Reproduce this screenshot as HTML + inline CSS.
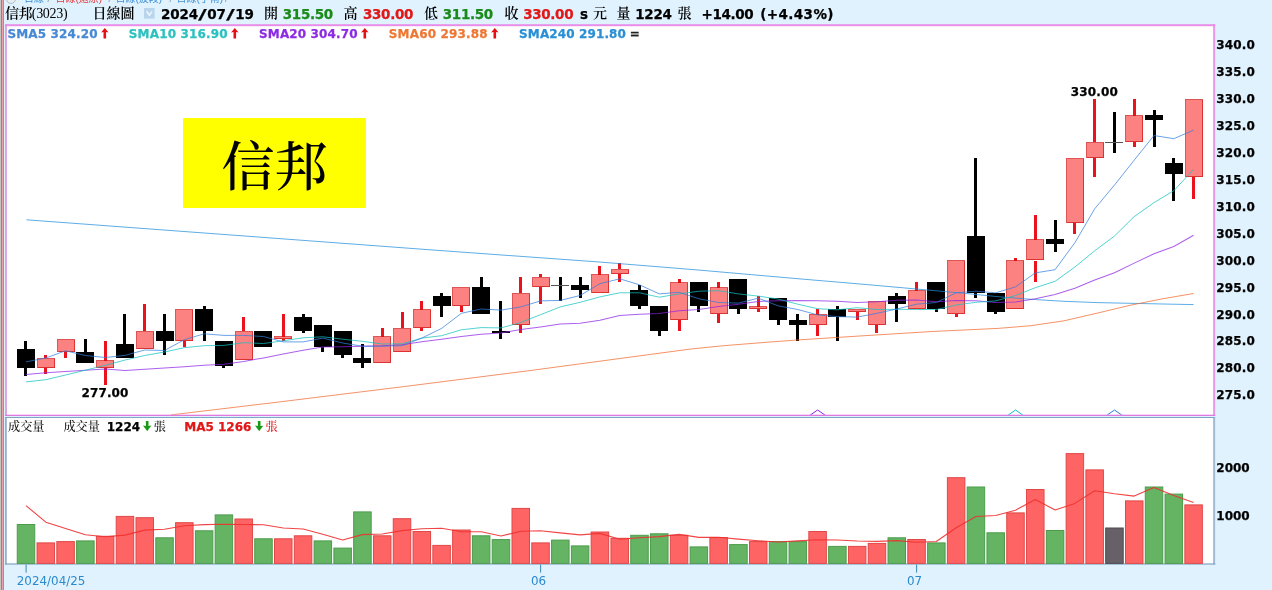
<!DOCTYPE html><html lang="zh-Hant"><head><meta charset="utf-8"><title>信邦(3023) 日線圖</title><style>
html,body{margin:0;padding:0}
body{width:1272px;height:590px;overflow:hidden;background:#e0f2fd;position:relative;font-family:"DejaVu Sans","Liberation Sans","Noto Sans CJK SC",sans-serif}
.a{position:absolute;white-space:nowrap;line-height:1}
.b{font-weight:bold;-webkit-text-stroke:0.25px}
.zh{font-family:"Liberation Serif","Noto Serif CJK SC",serif;font-weight:600}
.sl{margin:0 2.3px;display:inline-block;transform:scaleX(1.7)}
.n{font-weight:normal}
.pane{position:absolute;background:#fff;box-sizing:border-box}
</style></head><body>
<div class="a" style="left:0;top:0;width:1px;height:590px;background:#c6c6c0"></div>
<div class="a" style="left:1px;top:0;width:1px;height:590px;background:#9c8080"></div>
<div class="a" style="left:2px;top:0;width:1px;height:590px;background:#eba0ac"></div>
<div class="a" style="left:3px;top:0;width:1px;height:590px;background:#d47a8c"></div>
<div class="pane" style="left:6px;top:25px;width:1208px;height:390px"></div>
<div class="pane" style="left:6px;top:417px;width:1208px;height:147px"></div>
<div class="a" style="left:183px;top:118px;width:183px;height:90px;background:#ffff00"></div>
<div class="a zh" id="big" style="left:183px;top:122.5px;width:183px;height:86px;font-size:53px;line-height:90px;text-align:center;color:#000;font-weight:500">信邦</div>
<svg width="1272" height="590" viewBox="0 0 1272 590" style="position:absolute;left:0;top:0"><rect x="5" y="24.2" width="2" height="391.7" fill="#dca6e4"/><rect x="1213.1" y="24.2" width="2.05" height="391.7" fill="#ea98ea"/><rect x="5" y="24.2" width="1210.15" height="2" fill="#e88ee8"/><rect x="5" y="414.7" width="1210.15" height="1.25" fill="#e074e0"/><rect x="5.1" y="417" width="1.6" height="147.6" fill="#86aaca"/><rect x="1213.1" y="417" width="2.05" height="147.6" fill="#a2bcd6"/><rect x="5.1" y="417" width="1210.05" height="1" fill="#7ea4c6"/><rect x="5.1" y="563.4" width="1210.05" height="1.2" fill="#7ea4c6"/><rect x="17.25" y="524.5" width="17.5" height="38.9" fill="#64b464" stroke="#4c9c4c" stroke-width="1"/><rect x="37.04" y="542.9" width="17.5" height="20.5" fill="#ff6464" stroke="#e04848" stroke-width="1"/><rect x="56.83" y="541.6" width="17.5" height="21.8" fill="#ff6464" stroke="#e04848" stroke-width="1"/><rect x="76.62" y="540.9" width="17.5" height="22.5" fill="#64b464" stroke="#4c9c4c" stroke-width="1"/><rect x="96.41" y="536.3" width="17.5" height="27.1" fill="#ff6464" stroke="#e04848" stroke-width="1"/><rect x="116.20" y="516.4" width="17.5" height="47.0" fill="#ff6464" stroke="#e04848" stroke-width="1"/><rect x="135.99" y="517.7" width="17.5" height="45.7" fill="#ff6464" stroke="#e04848" stroke-width="1"/><rect x="155.78" y="537.8" width="17.5" height="25.6" fill="#64b464" stroke="#4c9c4c" stroke-width="1"/><rect x="175.57" y="522.7" width="17.5" height="40.7" fill="#ff6464" stroke="#e04848" stroke-width="1"/><rect x="195.36" y="530.8" width="17.5" height="32.6" fill="#64b464" stroke="#4c9c4c" stroke-width="1"/><rect x="215.15" y="514.9" width="17.5" height="48.5" fill="#64b464" stroke="#4c9c4c" stroke-width="1"/><rect x="234.94" y="519.0" width="17.5" height="44.4" fill="#ff6464" stroke="#e04848" stroke-width="1"/><rect x="254.73" y="538.8" width="17.5" height="24.6" fill="#64b464" stroke="#4c9c4c" stroke-width="1"/><rect x="274.52" y="538.8" width="17.5" height="24.6" fill="#ff6464" stroke="#e04848" stroke-width="1"/><rect x="294.31" y="535.8" width="17.5" height="27.6" fill="#ff6464" stroke="#e04848" stroke-width="1"/><rect x="314.10" y="540.9" width="17.5" height="22.5" fill="#64b464" stroke="#4c9c4c" stroke-width="1"/><rect x="333.89" y="548.1" width="17.5" height="15.3" fill="#64b464" stroke="#4c9c4c" stroke-width="1"/><rect x="353.68" y="511.9" width="17.5" height="51.5" fill="#64b464" stroke="#4c9c4c" stroke-width="1"/><rect x="373.47" y="535.8" width="17.5" height="27.6" fill="#ff6464" stroke="#e04848" stroke-width="1"/><rect x="393.26" y="518.7" width="17.5" height="44.7" fill="#ff6464" stroke="#e04848" stroke-width="1"/><rect x="413.05" y="531.5" width="17.5" height="31.9" fill="#ff6464" stroke="#e04848" stroke-width="1"/><rect x="432.84" y="545.4" width="17.5" height="18.0" fill="#ff6464" stroke="#e04848" stroke-width="1"/><rect x="452.63" y="530.0" width="17.5" height="33.4" fill="#ff6464" stroke="#e04848" stroke-width="1"/><rect x="472.42" y="535.8" width="17.5" height="27.6" fill="#64b464" stroke="#4c9c4c" stroke-width="1"/><rect x="492.21" y="539.6" width="17.5" height="23.8" fill="#64b464" stroke="#4c9c4c" stroke-width="1"/><rect x="512.00" y="508.4" width="17.5" height="55.0" fill="#ff6464" stroke="#e04848" stroke-width="1"/><rect x="531.79" y="542.9" width="17.5" height="20.5" fill="#ff6464" stroke="#e04848" stroke-width="1"/><rect x="551.58" y="540.1" width="17.5" height="23.3" fill="#64b464" stroke="#4c9c4c" stroke-width="1"/><rect x="571.37" y="545.9" width="17.5" height="17.5" fill="#64b464" stroke="#4c9c4c" stroke-width="1"/><rect x="591.16" y="532.0" width="17.5" height="31.4" fill="#ff6464" stroke="#e04848" stroke-width="1"/><rect x="610.95" y="538.3" width="17.5" height="25.1" fill="#ff6464" stroke="#e04848" stroke-width="1"/><rect x="630.74" y="535.3" width="17.5" height="28.1" fill="#64b464" stroke="#4c9c4c" stroke-width="1"/><rect x="650.53" y="533.8" width="17.5" height="29.6" fill="#64b464" stroke="#4c9c4c" stroke-width="1"/><rect x="670.32" y="535.3" width="17.5" height="28.1" fill="#ff6464" stroke="#e04848" stroke-width="1"/><rect x="690.11" y="546.9" width="17.5" height="16.5" fill="#64b464" stroke="#4c9c4c" stroke-width="1"/><rect x="709.90" y="537.6" width="17.5" height="25.8" fill="#ff6464" stroke="#e04848" stroke-width="1"/><rect x="729.69" y="544.6" width="17.5" height="18.8" fill="#64b464" stroke="#4c9c4c" stroke-width="1"/><rect x="749.48" y="541.6" width="17.5" height="21.8" fill="#ff6464" stroke="#e04848" stroke-width="1"/><rect x="769.27" y="541.6" width="17.5" height="21.8" fill="#64b464" stroke="#4c9c4c" stroke-width="1"/><rect x="789.06" y="541.6" width="17.5" height="21.8" fill="#64b464" stroke="#4c9c4c" stroke-width="1"/><rect x="808.85" y="531.5" width="17.5" height="31.9" fill="#ff6464" stroke="#e04848" stroke-width="1"/><rect x="828.64" y="546.4" width="17.5" height="17.0" fill="#64b464" stroke="#4c9c4c" stroke-width="1"/><rect x="848.43" y="546.4" width="17.5" height="17.0" fill="#ff6464" stroke="#e04848" stroke-width="1"/><rect x="868.22" y="543.4" width="17.5" height="20.0" fill="#ff6464" stroke="#e04848" stroke-width="1"/><rect x="888.01" y="537.8" width="17.5" height="25.6" fill="#64b464" stroke="#4c9c4c" stroke-width="1"/><rect x="907.80" y="539.5" width="17.5" height="23.9" fill="#ff6464" stroke="#e04848" stroke-width="1"/><rect x="927.59" y="542.9" width="17.5" height="20.5" fill="#64b464" stroke="#4c9c4c" stroke-width="1"/><rect x="947.38" y="477.7" width="17.5" height="85.7" fill="#ff6464" stroke="#e04848" stroke-width="1"/><rect x="967.17" y="487.0" width="17.5" height="76.4" fill="#64b464" stroke="#4c9c4c" stroke-width="1"/><rect x="986.96" y="532.8" width="17.5" height="30.6" fill="#64b464" stroke="#4c9c4c" stroke-width="1"/><rect x="1006.75" y="512.9" width="17.5" height="50.5" fill="#ff6464" stroke="#e04848" stroke-width="1"/><rect x="1026.54" y="489.5" width="17.5" height="73.9" fill="#ff6464" stroke="#e04848" stroke-width="1"/><rect x="1046.33" y="530.5" width="17.5" height="32.9" fill="#64b464" stroke="#4c9c4c" stroke-width="1"/><rect x="1066.12" y="453.6" width="17.5" height="109.8" fill="#ff6464" stroke="#e04848" stroke-width="1"/><rect x="1085.91" y="469.9" width="17.5" height="93.5" fill="#ff6464" stroke="#e04848" stroke-width="1"/><rect x="1105.70" y="528.0" width="17.5" height="35.4" fill="#686068" stroke="#504850" stroke-width="1"/><rect x="1125.49" y="500.9" width="17.5" height="62.5" fill="#ff6464" stroke="#e04848" stroke-width="1"/><rect x="1145.28" y="487.0" width="17.5" height="76.4" fill="#64b464" stroke="#4c9c4c" stroke-width="1"/><rect x="1165.07" y="494.1" width="17.5" height="69.3" fill="#64b464" stroke="#4c9c4c" stroke-width="1"/><rect x="1184.86" y="504.9" width="17.5" height="58.5" fill="#ff6464" stroke="#e04848" stroke-width="1"/><polyline points="26.0,505.6 45.8,522.2 65.6,528.5 85.4,534.8 105.2,536.7 124.9,535.1 144.7,530.1 164.5,529.3 184.3,525.7 204.1,524.6 223.9,524.3 243.7,524.5 263.5,524.7 283.3,528.0 303.1,529.0 322.8,534.2 342.6,540.0 362.4,534.6 382.2,534.0 402.0,530.6 421.8,528.7 441.6,528.2 461.4,531.8 481.2,531.8 501.0,536.0 520.8,531.3 540.5,530.8 560.3,532.9 580.1,534.9 599.9,533.4 619.7,539.3 639.5,537.8 659.3,536.6 679.1,534.4 698.9,537.4 718.6,537.3 738.4,539.1 758.2,540.7 778.0,542.0 797.8,540.9 817.6,539.7 837.4,540.0 857.2,541.0 877.0,541.4 896.8,540.6 916.5,542.2 936.3,541.5 956.1,527.8 975.9,516.5 995.7,515.5 1015.5,510.2 1035.3,499.5 1055.1,510.0 1074.9,503.4 1094.7,490.8 1114.5,493.8 1134.2,496.1 1154.0,487.4 1173.8,495.5 1193.6,502.5" fill="none" stroke="#f03030" stroke-width="1.1" stroke-opacity="0.9" stroke-linejoin="round"/><g shape-rendering="crispEdges"><rect x="24" y="341.3" width="3" height="35.0" fill="#000"/><rect x="17" y="349.0" width="18" height="19.0" fill="#000"/><rect x="84" y="338.7" width="3" height="24.3" fill="#000"/><rect x="76" y="352.0" width="18" height="11.0" fill="#000"/><rect x="123" y="314.4" width="3" height="43.1" fill="#000"/><rect x="116" y="344.0" width="18" height="14.0" fill="#000"/><rect x="163" y="314.4" width="3" height="40.4" fill="#000"/><rect x="156" y="331.0" width="18" height="10.0" fill="#000"/><rect x="203" y="306.3" width="3" height="35.0" fill="#000"/><rect x="195" y="309.0" width="18" height="22.0" fill="#000"/><rect x="222" y="341.3" width="3" height="26.9" fill="#000"/><rect x="215" y="341.0" width="18" height="25.0" fill="#000"/><rect x="262" y="330.6" width="3" height="16.2" fill="#000"/><rect x="254" y="331.0" width="18" height="16.0" fill="#000"/><rect x="302" y="314.4" width="3" height="18.9" fill="#000"/><rect x="294" y="317.0" width="18" height="14.0" fill="#000"/><rect x="321" y="325.2" width="3" height="26.9" fill="#000"/><rect x="314" y="325.0" width="18" height="22.0" fill="#000"/><rect x="341" y="330.6" width="3" height="27.0" fill="#000"/><rect x="334" y="331.0" width="18" height="24.0" fill="#000"/><rect x="361" y="344.0" width="3" height="24.3" fill="#000"/><rect x="353" y="358.0" width="18" height="5.0" fill="#000"/><rect x="440" y="292.8" width="3" height="24.3" fill="#000"/><rect x="433" y="296.0" width="18" height="10.0" fill="#000"/><rect x="480" y="276.7" width="3" height="37.7" fill="#000"/><rect x="472" y="287.0" width="18" height="27.0" fill="#000"/><rect x="499" y="300.9" width="3" height="37.7" fill="#000"/><rect x="492" y="331.0" width="18" height="2.0" fill="#000"/><rect x="559" y="276.7" width="3" height="24.3" fill="#000"/><rect x="551" y="285.0" width="18" height="1" fill="#555"/><rect x="579" y="276.7" width="3" height="21.6" fill="#000"/><rect x="571" y="285.0" width="18" height="5.0" fill="#000"/><rect x="638" y="284.8" width="3" height="24.3" fill="#000"/><rect x="630" y="290.0" width="18" height="16.0" fill="#000"/><rect x="658" y="306.3" width="3" height="29.6" fill="#000"/><rect x="650" y="306.0" width="18" height="25.0" fill="#000"/><rect x="697" y="282.1" width="3" height="29.6" fill="#000"/><rect x="690" y="282.0" width="18" height="24.0" fill="#000"/><rect x="737" y="279.4" width="3" height="35.0" fill="#000"/><rect x="729" y="279.0" width="18" height="30.0" fill="#000"/><rect x="777" y="298.2" width="3" height="26.9" fill="#000"/><rect x="769" y="298.0" width="18" height="22.0" fill="#000"/><rect x="796" y="314.4" width="3" height="26.9" fill="#000"/><rect x="789" y="320.0" width="18" height="5.0" fill="#000"/><rect x="836" y="306.3" width="3" height="35.0" fill="#000"/><rect x="828" y="309.0" width="18" height="8.0" fill="#000"/><rect x="895" y="292.8" width="3" height="29.6" fill="#000"/><rect x="888" y="296.0" width="18" height="8.0" fill="#000"/><rect x="935" y="282.1" width="3" height="29.6" fill="#000"/><rect x="927" y="282.0" width="18" height="27.0" fill="#000"/><rect x="974" y="158.1" width="3" height="140.1" fill="#000"/><rect x="967" y="236.0" width="18" height="57.0" fill="#000"/><rect x="994" y="292.8" width="3" height="21.6" fill="#000"/><rect x="987" y="293.0" width="18" height="19.0" fill="#000"/><rect x="1054" y="220.1" width="3" height="32.3" fill="#000"/><rect x="1046" y="239.0" width="18" height="5.0" fill="#000"/><rect x="1113" y="112.3" width="3" height="40.4" fill="#000"/><rect x="1105" y="142.0" width="18" height="1" fill="#555"/><rect x="1153" y="109.6" width="3" height="37.7" fill="#000"/><rect x="1145" y="115.0" width="18" height="5.0" fill="#000"/><rect x="1172" y="158.1" width="3" height="43.1" fill="#000"/><rect x="1165" y="163.0" width="18" height="11.0" fill="#000"/><rect x="44" y="354.8" width="3" height="3.2" fill="#ea121c"/><rect x="44" y="368.3" width="3" height="5.4" fill="#ea121c"/><rect x="37.5" y="358.5" width="17" height="9.0" fill="#fa0606" fill-opacity="0.5" stroke="#d01414" stroke-opacity="0.72" stroke-width="1"/><rect x="64" y="352.1" width="3" height="5.4" fill="#ea121c"/><rect x="57.5" y="339.5" width="17" height="12.0" fill="#fa0606" fill-opacity="0.5" stroke="#d01414" stroke-opacity="0.72" stroke-width="1"/><rect x="104" y="341.3" width="3" height="19.4" fill="#ea121c"/><rect x="104" y="368.3" width="3" height="16.2" fill="#ea121c"/><rect x="96.5" y="360.5" width="17" height="7.0" fill="#fa0606" fill-opacity="0.5" stroke="#d01414" stroke-opacity="0.72" stroke-width="1"/><rect x="143" y="303.6" width="3" height="27.4" fill="#ea121c"/><rect x="136.5" y="331.5" width="17" height="17.0" fill="#fa0606" fill-opacity="0.5" stroke="#d01414" stroke-opacity="0.72" stroke-width="1"/><rect x="183" y="341.3" width="3" height="5.4" fill="#ea121c"/><rect x="175.5" y="309.5" width="17" height="31.0" fill="#fa0606" fill-opacity="0.5" stroke="#d01414" stroke-opacity="0.72" stroke-width="1"/><rect x="242" y="317.1" width="3" height="14.0" fill="#ea121c"/><rect x="235.5" y="331.5" width="17" height="28.0" fill="#fa0606" fill-opacity="0.5" stroke="#d01414" stroke-opacity="0.72" stroke-width="1"/><rect x="282" y="314.4" width="3" height="22.1" fill="#ea121c"/><rect x="282" y="338.7" width="3" height="2.7" fill="#ea121c"/><rect x="274.5" y="336.5" width="17" height="2.0" fill="#fa0606" fill-opacity="0.5" stroke="#d01414" stroke-opacity="0.72" stroke-width="1"/><rect x="381" y="327.9" width="3" height="8.6" fill="#ea121c"/><rect x="373.5" y="336.5" width="17" height="26.0" fill="#fa0606" fill-opacity="0.5" stroke="#d01414" stroke-opacity="0.72" stroke-width="1"/><rect x="401" y="311.7" width="3" height="16.7" fill="#ea121c"/><rect x="393.5" y="328.5" width="17" height="23.0" fill="#fa0606" fill-opacity="0.5" stroke="#d01414" stroke-opacity="0.72" stroke-width="1"/><rect x="420" y="300.9" width="3" height="8.6" fill="#ea121c"/><rect x="420" y="327.9" width="3" height="2.7" fill="#ea121c"/><rect x="413.5" y="309.5" width="17" height="18.0" fill="#fa0606" fill-opacity="0.5" stroke="#d01414" stroke-opacity="0.72" stroke-width="1"/><rect x="460" y="306.3" width="3" height="5.4" fill="#ea121c"/><rect x="452.5" y="287.5" width="17" height="18.0" fill="#fa0606" fill-opacity="0.5" stroke="#d01414" stroke-opacity="0.72" stroke-width="1"/><rect x="519" y="276.7" width="3" height="16.7" fill="#ea121c"/><rect x="519" y="325.2" width="3" height="8.1" fill="#ea121c"/><rect x="512.5" y="293.5" width="17" height="31.0" fill="#fa0606" fill-opacity="0.5" stroke="#d01414" stroke-opacity="0.72" stroke-width="1"/><rect x="539" y="274.0" width="3" height="3.2" fill="#ea121c"/><rect x="539" y="287.4" width="3" height="16.2" fill="#ea121c"/><rect x="532.5" y="277.5" width="17" height="9.0" fill="#fa0606" fill-opacity="0.5" stroke="#d01414" stroke-opacity="0.72" stroke-width="1"/><rect x="598" y="265.9" width="3" height="8.6" fill="#ea121c"/><rect x="591.5" y="274.5" width="17" height="18.0" fill="#fa0606" fill-opacity="0.5" stroke="#d01414" stroke-opacity="0.72" stroke-width="1"/><rect x="618" y="263.2" width="3" height="5.9" fill="#ea121c"/><rect x="618" y="274.0" width="3" height="8.1" fill="#ea121c"/><rect x="611.5" y="269.5" width="17" height="4.0" fill="#fa0606" fill-opacity="0.5" stroke="#d01414" stroke-opacity="0.72" stroke-width="1"/><rect x="678" y="279.4" width="3" height="3.2" fill="#ea121c"/><rect x="678" y="319.8" width="3" height="10.8" fill="#ea121c"/><rect x="670.5" y="282.5" width="17" height="37.0" fill="#fa0606" fill-opacity="0.5" stroke="#d01414" stroke-opacity="0.72" stroke-width="1"/><rect x="717" y="282.1" width="3" height="5.9" fill="#ea121c"/><rect x="717" y="314.4" width="3" height="8.1" fill="#ea121c"/><rect x="710.5" y="287.5" width="17" height="26.0" fill="#fa0606" fill-opacity="0.5" stroke="#d01414" stroke-opacity="0.72" stroke-width="1"/><rect x="757" y="295.5" width="3" height="11.3" fill="#ea121c"/><rect x="757" y="309.0" width="3" height="2.7" fill="#ea121c"/><rect x="749.5" y="306.5" width="17" height="2.0" fill="#fa0606" fill-opacity="0.5" stroke="#d01414" stroke-opacity="0.72" stroke-width="1"/><rect x="816" y="309.0" width="3" height="5.9" fill="#ea121c"/><rect x="816" y="325.2" width="3" height="10.8" fill="#ea121c"/><rect x="809.5" y="314.5" width="17" height="10.0" fill="#fa0606" fill-opacity="0.5" stroke="#d01414" stroke-opacity="0.72" stroke-width="1"/><rect x="856" y="311.7" width="3" height="8.1" fill="#ea121c"/><rect x="848.5" y="309.5" width="17" height="2.0" fill="#fa0606" fill-opacity="0.5" stroke="#d01414" stroke-opacity="0.72" stroke-width="1"/><rect x="875" y="325.2" width="3" height="8.1" fill="#ea121c"/><rect x="868.5" y="301.5" width="17" height="23.0" fill="#fa0606" fill-opacity="0.5" stroke="#d01414" stroke-opacity="0.72" stroke-width="1"/><rect x="915" y="282.1" width="3" height="8.6" fill="#ea121c"/><rect x="908.5" y="290.5" width="17" height="18.0" fill="#fa0606" fill-opacity="0.5" stroke="#d01414" stroke-opacity="0.72" stroke-width="1"/><rect x="955" y="314.4" width="3" height="2.7" fill="#ea121c"/><rect x="947.5" y="260.5" width="17" height="53.0" fill="#fa0606" fill-opacity="0.5" stroke="#d01414" stroke-opacity="0.72" stroke-width="1"/><rect x="1014" y="257.8" width="3" height="3.2" fill="#ea121c"/><rect x="1006.5" y="260.5" width="17" height="48.0" fill="#fa0606" fill-opacity="0.5" stroke="#d01414" stroke-opacity="0.72" stroke-width="1"/><rect x="1034" y="214.7" width="3" height="24.8" fill="#ea121c"/><rect x="1034" y="260.5" width="3" height="21.6" fill="#ea121c"/><rect x="1026.5" y="239.5" width="17" height="20.0" fill="#fa0606" fill-opacity="0.5" stroke="#d01414" stroke-opacity="0.72" stroke-width="1"/><rect x="1073" y="222.8" width="3" height="10.8" fill="#ea121c"/><rect x="1066.5" y="158.5" width="17" height="64.0" fill="#fa0606" fill-opacity="0.5" stroke="#d01414" stroke-opacity="0.72" stroke-width="1"/><rect x="1093" y="98.8" width="3" height="43.6" fill="#ea121c"/><rect x="1093" y="158.1" width="3" height="18.9" fill="#ea121c"/><rect x="1086.5" y="142.5" width="17" height="15.0" fill="#fa0606" fill-opacity="0.5" stroke="#d01414" stroke-opacity="0.72" stroke-width="1"/><rect x="1133" y="98.8" width="3" height="16.7" fill="#ea121c"/><rect x="1133" y="141.9" width="3" height="5.4" fill="#ea121c"/><rect x="1125.5" y="115.5" width="17" height="26.0" fill="#fa0606" fill-opacity="0.5" stroke="#d01414" stroke-opacity="0.72" stroke-width="1"/><rect x="1192" y="177.0" width="3" height="21.6" fill="#ea121c"/><rect x="1185.5" y="99.5" width="17" height="77.0" fill="#fa0606" fill-opacity="0.5" stroke="#d01414" stroke-opacity="0.72" stroke-width="1"/></g><clipPath id="mc"><rect x="7" y="26.2" width="1206.1" height="388.5"/></clipPath><g clip-path="url(#mc)"><polyline points="26.5,219.8 426.0,249.5 499.0,254.8 598.0,261.9 697.0,269.9 800.0,278.9 866.0,284.5 932.0,290.4 965.0,293.4 998.0,296.7 1031.0,299.3 1064.0,301.3 1097.0,302.6 1130.0,303.3 1163.0,304.0 1193.6,304.6" fill="none" stroke="#1f8edc" stroke-width="1.0" stroke-opacity="0.72" stroke-linejoin="round"/><polyline points="171.0,414.9 277.3,402.2 404.7,386.5 532.0,370.3 690.0,349.1 722.4,345.8 765.0,342.4 800.0,339.8 866.0,335.6 932.0,331.5 998.0,328.4 1031.0,325.7 1064.0,320.8 1097.0,313.2 1130.0,305.3 1163.0,298.7 1193.6,293.5" fill="none" stroke="#f0682c" stroke-width="1.0" stroke-opacity="0.72" stroke-linejoin="round"/><polyline points="26.0,374.5 45.8,372.8 65.6,371.5 85.4,370.2 105.2,369.0 124.9,370.5 144.7,369.3 164.5,368.0 184.3,366.7 204.1,365.2 223.9,364.2 243.7,361.4 263.5,357.9 283.3,354.0 303.1,350.2 322.8,347.0 342.6,346.7 362.4,346.3 382.2,345.8 402.0,344.7 421.8,341.8 441.6,339.2 461.4,336.6 481.2,334.2 501.0,332.9 520.8,329.6 540.5,326.9 560.3,324.1 580.1,323.2 599.9,320.3 619.7,315.5 639.5,314.3 659.3,313.5 679.1,310.8 698.9,309.5 718.6,306.6 738.4,304.3 758.2,301.5 778.0,300.7 797.8,300.5 817.6,300.8 837.4,301.3 857.2,302.4 877.0,301.7 896.8,300.3 916.5,300.1 936.3,301.7 956.1,300.5 975.9,300.7 995.7,302.5 1015.5,302.1 1035.3,298.8 1055.1,294.5 1074.9,288.3 1094.7,280.0 1114.5,272.8 1134.2,263.1 1154.0,253.8 1173.8,246.5 1193.6,235.2" fill="none" stroke="#8c22e6" stroke-width="1.05" stroke-opacity="0.72" stroke-linejoin="round"/><polyline points="26.0,381.9 45.8,379.7 65.6,375.0 85.4,370.2 105.2,365.3 124.9,360.1 144.7,355.5 164.5,352.0 184.3,347.7 204.1,345.7 223.9,345.4 243.7,342.7 263.5,343.5 283.3,340.8 303.1,337.8 322.8,336.8 342.6,339.2 362.4,341.3 382.2,344.0 402.0,343.8 421.8,338.1 441.6,335.7 461.4,329.8 481.2,327.6 501.0,327.9 520.8,322.5 540.5,314.7 560.3,306.9 580.1,302.3 599.9,296.9 619.7,292.8 639.5,292.8 659.3,297.2 679.1,293.9 698.9,291.2 718.6,290.7 738.4,293.9 758.2,296.1 778.0,299.0 797.8,304.2 817.6,308.7 837.4,309.8 857.2,307.7 877.0,309.5 896.8,309.3 916.5,309.5 936.3,309.5 956.1,305.0 975.9,302.3 995.7,300.9 1015.5,295.5 1035.3,287.7 1055.1,281.3 1074.9,267.0 1094.7,250.8 1114.5,236.0 1134.2,216.6 1154.0,202.6 1173.8,190.7 1193.6,169.4" fill="none" stroke="#10c0c0" stroke-width="1.0" stroke-opacity="0.72" stroke-linejoin="round"/><polyline points="26.0,361.9 45.8,358.0 65.6,350.8 85.4,355.5 105.2,357.5 124.9,355.4 144.7,350.0 164.5,350.5 184.3,339.7 204.1,333.8 223.9,335.4 243.7,335.4 263.5,336.5 283.3,341.9 303.1,341.9 322.8,338.1 342.6,343.0 362.4,346.2 382.2,346.2 402.0,345.7 421.8,338.1 441.6,328.4 461.4,313.3 481.2,309.0 501.0,310.1 520.8,306.9 540.5,300.9 560.3,300.4 580.1,295.5 599.9,283.7 619.7,278.8 639.5,284.8 659.3,293.9 679.1,292.3 698.9,298.8 718.6,302.5 738.4,303.1 758.2,298.2 778.0,305.8 797.8,309.5 817.6,314.9 837.4,316.6 857.2,317.1 877.0,313.3 896.8,309.0 916.5,304.2 936.3,302.5 956.1,292.8 975.9,291.2 995.7,292.8 1015.5,286.9 1035.3,272.9 1055.1,269.7 1074.9,242.7 1094.7,208.8 1114.5,185.0 1134.2,160.2 1154.0,135.5 1173.8,138.7 1193.6,130.1" fill="none" stroke="#2f7edc" stroke-width="1.0" stroke-opacity="0.72" stroke-linejoin="round"/><polyline points="809.6,415.5 817.6,410 825.6,415.5" fill="none" stroke="#8c22e6" stroke-width="1"/><polyline points="1007.5,415.5 1015.5,410 1023.5,415.5" fill="none" stroke="#10c0c0" stroke-width="1"/><polyline points="1106.5,415.5 1114.5,410 1122.5,415.5" fill="none" stroke="#2f7edc" stroke-width="1"/></g><rect x="25.6" y="564.6" width="1" height="8" fill="#3d84b4"/><rect x="540.1" y="564.6" width="1" height="8" fill="#3d84b4"/><rect x="916.1" y="564.6" width="1" height="8" fill="#3d84b4"/></svg>
<div class="a" id="topclip" style="left:0;top:0;width:400px;height:4px;overflow:hidden"><div class="a" style="left:5.5px;top:-6px;width:8px;height:8px;border-radius:5px;border:1px solid #b4bcc6;background:#e6ecf2"></div><div class="a" id="t1" style="font-family:'Liberation Sans','Noto Sans CJK SC',sans-serif;font-size:10px;top:-6.2px;left:24px;color:#3d8fd6">日線</div><div class="a" style="font-family:'Liberation Sans','Noto Sans CJK SC',sans-serif;font-size:10px;top:-6.2px;left:47.5px;color:#8899aa">/</div><div class="a" id="t2" style="font-family:'Liberation Sans','Noto Sans CJK SC',sans-serif;font-size:10px;top:-6.2px;left:55.5px;color:#e23a3a">日線(還原)</div><div class="a" style="font-family:'Liberation Sans','Noto Sans CJK SC',sans-serif;font-size:10px;top:-6.2px;left:108.5px;color:#8899aa">/</div><div class="a" id="t3" style="font-family:'Liberation Sans','Noto Sans CJK SC',sans-serif;font-size:10px;top:-6.2px;left:115.5px;color:#3d8fd6">日線(波段)</div><div class="a" style="font-family:'Liberation Sans','Noto Sans CJK SC',sans-serif;font-size:10px;top:-6.2px;left:169.5px;color:#8899aa">/</div><div class="a" id="t4" style="font-family:'Liberation Sans','Noto Sans CJK SC',sans-serif;font-size:10px;top:-6.2px;left:176.5px;color:#3d8fd6">日線(手術)</div><div class="a" style="font-family:'Liberation Sans','Noto Sans CJK SC',sans-serif;font-size:10px;top:-6.2px;left:225px;color:#8899aa">/</div></div>
<div class="a zh" id="h_name" style="left:5.0px;top:7.0px;font-size:14px;color:#000;"><span style="letter-spacing:-0.6px">信邦</span><span class="n" style="letter-spacing:-0.3px">(3023)</span></div>
<div class="a zh" id="h_type" style="left:92.5px;top:7.0px;font-size:14px;color:#000;">日線圖</div>
<svg class="a" id="h_chk" style="left:144.3px;top:8.1px" width="10.6" height="10.6" viewBox="0 0 10.6 10.6"><rect width="10.6" height="10.6" fill="#b9d5ee"/><polyline points="2.6,3.3 5.4,7.2 8,3.6" fill="none" stroke="#eef7fd" stroke-width="1.5"/></svg>
<div class="a b" id="h_date" style="left:161.0px;top:7.8px;font-size:13.5px;color:#000;letter-spacing:-0.15px">2024<span class="sl">/</span>07<span class="sl">/</span>19</div>
<div class="a zh" id="h_o" style="left:264.0px;top:7.0px;font-size:14px;color:#000;">開</div>
<div class="a b" id="h_ov" style="left:282.8px;top:7.8px;font-size:13.5px;color:#1a8a1a;letter-spacing:-0.35px">315.50</div>
<div class="a zh" id="h_h" style="left:343.6px;top:7.0px;font-size:14px;color:#000;">高</div>
<div class="a b" id="h_hv" style="left:363.0px;top:7.8px;font-size:13.5px;color:#e01818;letter-spacing:-0.35px">330.00</div>
<div class="a zh" id="h_l" style="left:424.0px;top:7.0px;font-size:14px;color:#000;">低</div>
<div class="a b" id="h_lv" style="left:442.8px;top:7.8px;font-size:13.5px;color:#1a8a1a;letter-spacing:-0.35px">311.50</div>
<div class="a zh" id="h_c" style="left:504.6px;top:7.0px;font-size:14px;color:#000;">收</div>
<div class="a b" id="h_cv" style="left:523.2px;top:7.8px;font-size:13.5px;color:#e01818;letter-spacing:-0.35px">330.00</div>
<div class="a b" id="h_s" style="left:580.0px;top:7.8px;font-size:13.5px;color:#000;">s</div>
<div class="a zh" id="h_y" style="left:593.0px;top:7.0px;font-size:14px;color:#000;">元</div>
<div class="a zh" id="h_q" style="left:616.5px;top:7.0px;font-size:14px;color:#000;">量</div>
<div class="a b" id="h_qv" style="left:635.3px;top:7.8px;font-size:13.5px;color:#000;letter-spacing:-0.35px">1224</div>
<div class="a zh" id="h_z" style="left:677.5px;top:7.0px;font-size:14px;color:#000;">張</div>
<div class="a b" id="h_chg" style="left:701.5px;top:7.8px;font-size:13.5px;color:#000;letter-spacing:-0.35px">+14.00</div>
<div class="a b" id="h_pct" style="left:760.2px;top:7.8px;font-size:13.5px;color:#000;letter-spacing:0.4px">(+4.43%)</div>
<div class="a b" id="s5" style="left:7.5px;top:28.0px;font-size:12px;color:#4789d6;letter-spacing:0.13px">SMA5 324.20</div>
<svg class="a" id="a5" style="left:101.4px;top:28.3px" width="7.6" height="10.4" viewBox="0 0 7.6 10.4"><path d="M3.8 0 L7.6 4.5 L5.1 4.1 L5.1 10.4 L2.5 10.4 L2.5 4.1 L0 4.5 Z" fill="#e60f14"/></svg>
<div class="a b" id="s10" style="left:128.8px;top:28.0px;font-size:12px;color:#2cc0c0;letter-spacing:0.16px">SMA10 316.90</div>
<svg class="a" id="a10" style="left:231.3px;top:28.3px" width="7.6" height="10.4" viewBox="0 0 7.6 10.4"><path d="M3.8 0 L7.6 4.5 L5.1 4.1 L5.1 10.4 L2.5 10.4 L2.5 4.1 L0 4.5 Z" fill="#e60f14"/></svg>
<div class="a b" id="s20" style="left:259.1px;top:28.0px;font-size:12px;color:#8c2be2;letter-spacing:0.13px">SMA20 304.70</div>
<svg class="a" id="a20" style="left:361.4px;top:28.3px" width="7.6" height="10.4" viewBox="0 0 7.6 10.4"><path d="M3.8 0 L7.6 4.5 L5.1 4.1 L5.1 10.4 L2.5 10.4 L2.5 4.1 L0 4.5 Z" fill="#e60f14"/></svg>
<div class="a b" id="s60" style="left:388.8px;top:28.0px;font-size:12px;color:#ee7733;letter-spacing:0.16px">SMA60 293.88</div>
<svg class="a" id="a60" style="left:491.3px;top:28.3px" width="7.6" height="10.4" viewBox="0 0 7.6 10.4"><path d="M3.8 0 L7.6 4.5 L5.1 4.1 L5.1 10.4 L2.5 10.4 L2.5 4.1 L0 4.5 Z" fill="#e60f14"/></svg>
<div class="a b" id="s240" style="left:519.1px;top:28.0px;font-size:12px;color:#2a8fd4;letter-spacing:0.12px">SMA240 291.80</div>
<div class="a b" id="eq" style="left:629.8px;top:28.0px;font-size:12px;color:#222;">=</div>
<div class="a b" id="p275" style="left:1216.3px;top:389.3px;font-size:12px;color:#000;letter-spacing:0.12px">275.0</div>
<div class="a b" id="p280" style="left:1216.3px;top:362.4px;font-size:12px;color:#000;letter-spacing:0.12px">280.0</div>
<div class="a b" id="p285" style="left:1216.3px;top:335.4px;font-size:12px;color:#000;letter-spacing:0.12px">285.0</div>
<div class="a b" id="p290" style="left:1216.3px;top:308.5px;font-size:12px;color:#000;letter-spacing:0.12px">290.0</div>
<div class="a b" id="p295" style="left:1216.3px;top:281.6px;font-size:12px;color:#000;letter-spacing:0.12px">295.0</div>
<div class="a b" id="p300" style="left:1216.3px;top:254.6px;font-size:12px;color:#000;letter-spacing:0.12px">300.0</div>
<div class="a b" id="p305" style="left:1216.3px;top:227.6px;font-size:12px;color:#000;letter-spacing:0.12px">305.0</div>
<div class="a b" id="p310" style="left:1216.3px;top:200.7px;font-size:12px;color:#000;letter-spacing:0.12px">310.0</div>
<div class="a b" id="p315" style="left:1216.3px;top:173.8px;font-size:12px;color:#000;letter-spacing:0.12px">315.0</div>
<div class="a b" id="p320" style="left:1216.3px;top:146.8px;font-size:12px;color:#000;letter-spacing:0.12px">320.0</div>
<div class="a b" id="p325" style="left:1216.3px;top:119.8px;font-size:12px;color:#000;letter-spacing:0.12px">325.0</div>
<div class="a b" id="p330" style="left:1216.3px;top:92.9px;font-size:12px;color:#000;letter-spacing:0.12px">330.0</div>
<div class="a b" id="p335" style="left:1216.3px;top:65.9px;font-size:12px;color:#000;letter-spacing:0.12px">335.0</div>
<div class="a b" id="p340" style="left:1216.3px;top:39.0px;font-size:12px;color:#000;letter-spacing:0.12px">340.0</div>
<div class="a b" id="hi" style="left:1070.7px;top:85.9px;font-size:12px;color:#000;letter-spacing:0.15px">330.00</div>
<div class="a b" id="lo" style="left:81.4px;top:386.7px;font-size:12px;color:#000;letter-spacing:0.15px">277.00</div>
<div class="a zh" id="v1" style="left:8.0px;top:420.5px;font-size:12.2px;color:#111;font-weight:500">成交量</div>
<div class="a zh" id="v2" style="left:63.4px;top:420.5px;font-size:12.2px;color:#111;font-weight:500">成交量</div>
<div class="a b" id="v3" style="left:106.7px;top:421.0px;font-size:12px;color:#000;">1224</div>
<svg class="a" id="av1" style="left:143.2px;top:420.8px" width="8.4" height="10.2" viewBox="0 0 8.4 10.2"><path d="M4.2 10.2 L8.4 4.6 L5.5 5.1 L5.5 0 L2.9 0 L2.9 5.1 L0 4.6 Z" fill="#189a18"/></svg>
<div class="a zh" id="v4" style="left:153.8px;top:420.5px;font-size:12.2px;color:#111;font-weight:500">張</div>
<div class="a b" id="v5" style="left:184.2px;top:421.0px;font-size:12px;color:#e01818;">MA5 1266</div>
<svg class="a" id="av2" style="left:255.1px;top:420.8px" width="8.4" height="10.2" viewBox="0 0 8.4 10.2"><path d="M4.2 10.2 L8.4 4.6 L5.5 5.1 L5.5 0 L2.9 0 L2.9 5.1 L0 4.6 Z" fill="#189a18"/></svg>
<div class="a zh" id="v6" style="left:265.4px;top:420.5px;font-size:12.2px;color:#e01818;font-weight:500">張</div>
<div class="a b" id="vy2" style="left:1216.3px;top:461.6px;font-size:12px;color:#000;">2000</div>
<div class="a b" id="vy1" style="left:1216.3px;top:509.9px;font-size:12px;color:#000;">1000</div>
<div class="a " id="d0" style="left:16.8px;top:575.5px;font-size:11.9px;color:#2a8ad0;">2024/04/25</div>
<div class="a " id="d1" style="left:531.0px;top:575.5px;font-size:11.9px;color:#2a8ad0;">06</div>
<div class="a " id="d2" style="left:907.0px;top:575.5px;font-size:11.9px;color:#2a8ad0;">07</div>
</body></html>
